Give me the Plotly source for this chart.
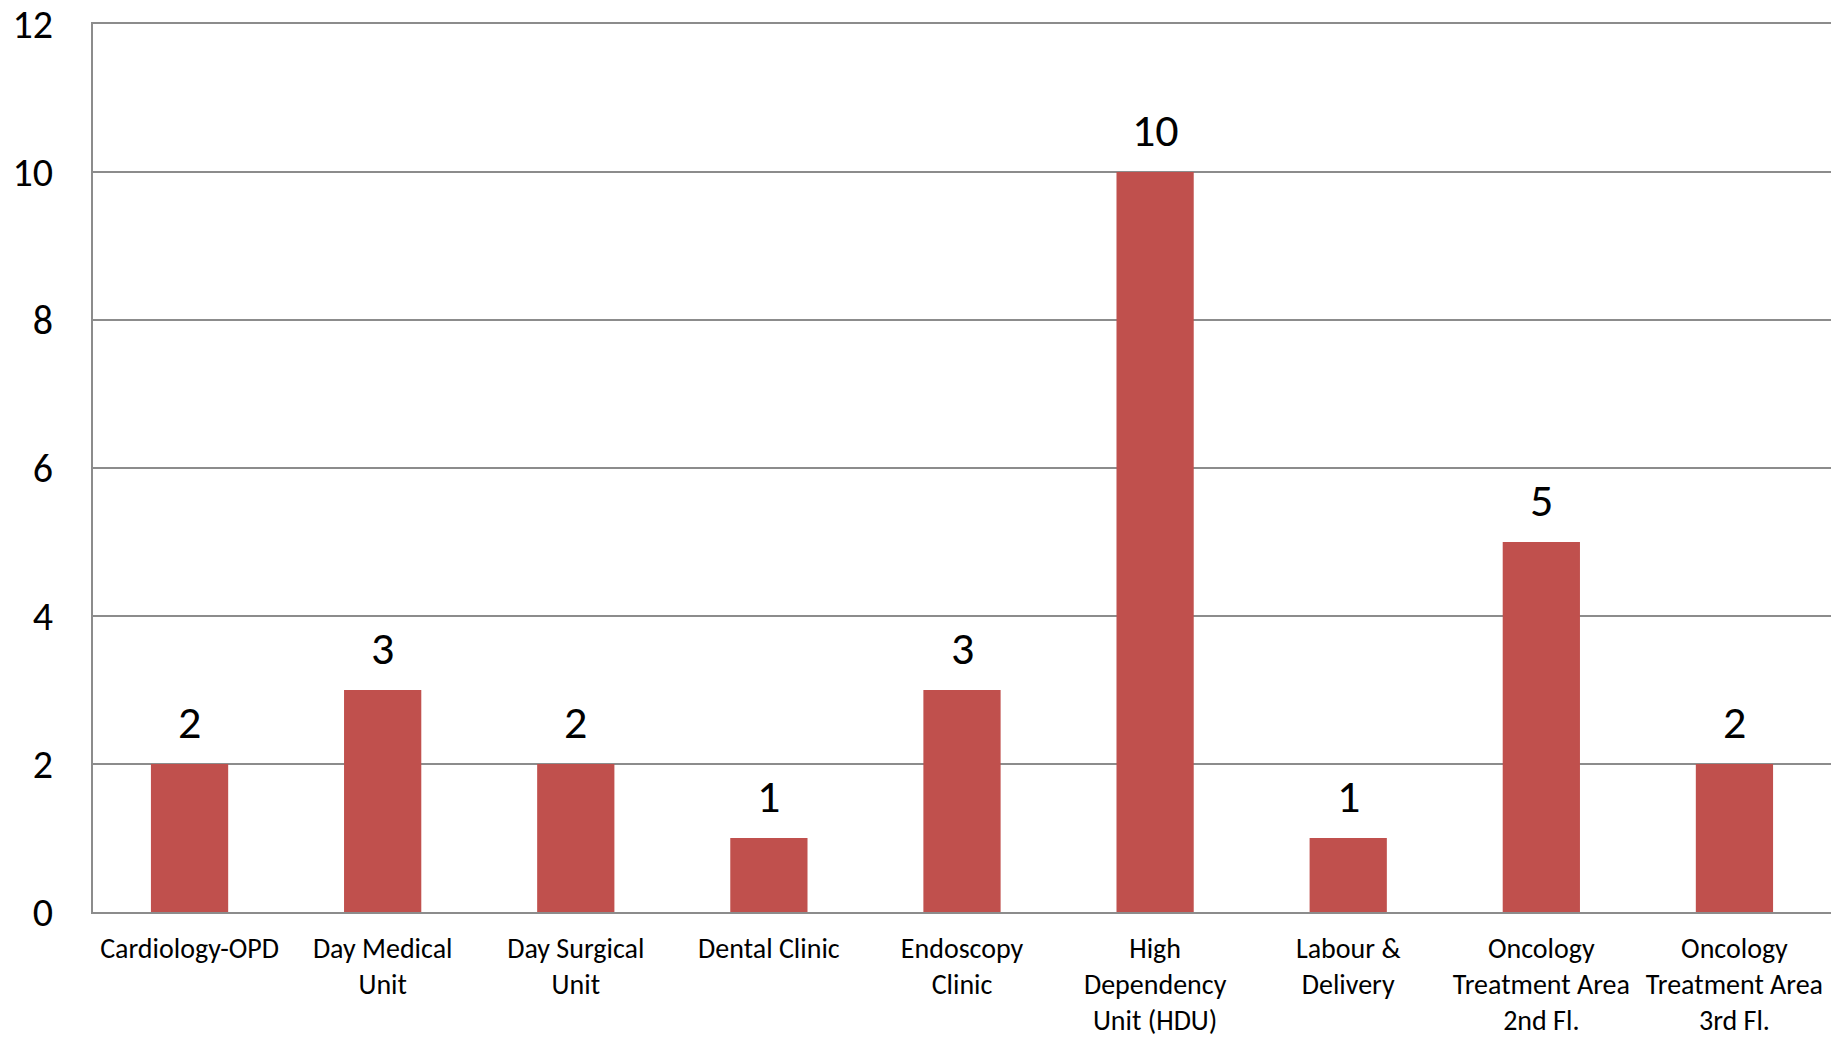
import plotly.graph_objects as go

categories = [
    "Cardiology-OPD",
    "Day Medical<br>Unit",
    "Day Surgical<br>Unit",
    "Dental Clinic",
    "Endoscopy<br>Clinic",
    "High<br>Dependency<br>Unit (HDU)",
    "Labour &<br>Delivery",
    "Oncology<br>Treatment Area<br>2nd Fl.",
    "Oncology<br>Treatment Area<br>3rd Fl.",
]
values = [2, 3, 2, 1, 3, 10, 1, 5, 2]
y_ticks = [0, 2, 4, 6, 8, 10, 12]

FONT = "Carlito, Calibri, Lato, sans-serif"
BAR_COLOR = "#C0504D"
GRID = "#8C8C8C"

fig = go.Figure()
fig.add_trace(go.Bar(
    x=categories,
    y=values,
    marker=dict(color=BAR_COLOR, line=dict(width=0)),
    hoverinfo="skip",
))

for c, v in zip(categories, values):
    fig.add_annotation(
        x=c, y=v, text=str(v), showarrow=False,
        yanchor="bottom", yshift=12,
        font=dict(family=FONT, size=46, color="#000000"),
    )

fig.update_layout(
    width=1847, height=1038,
    margin=dict(l=93, r=16, t=24, b=126),
    paper_bgcolor="white",
    plot_bgcolor="white",
    showlegend=False,
    bargap=0.6,
    font=dict(family=FONT, color="#000000"),
)
fig.update_xaxes(
    type="category",
    automargin=False,
    showline=True, linecolor=GRID, linewidth=2, mirror=True,
    showgrid=False,
    ticks="", ticklabelstandoff=10,
    tickfont=dict(family=FONT, size=28, color="#000000"),
    tickangle=0,
)
fig.update_yaxes(
    range=[0, 12],
    automargin=False,
    tickvals=y_ticks,
    showline=True, linecolor=GRID, linewidth=2,
    showgrid=True, gridcolor=GRID, gridwidth=1.5,
    zeroline=False,
    ticks="", ticklabelstandoff=30,
    tickfont=dict(family=FONT, size=40, color="#000000"),
)

fig.write_html(
    "out.html",
    config={"displayModeBar": False},
    post_script="document.body.style.margin='0';document.body.style.overflow='hidden';",
)
